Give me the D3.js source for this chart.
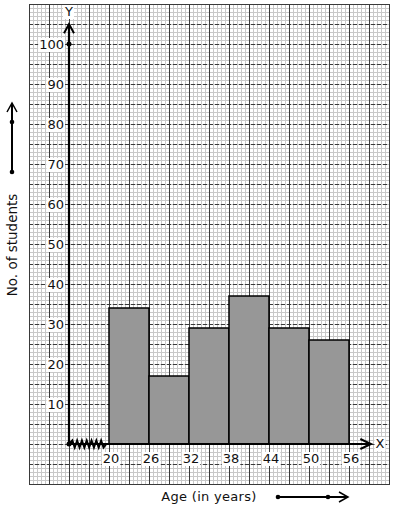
<!DOCTYPE html>
<html>
<head>
<meta charset="utf-8">
<script src="https://d3js.org/d3.v7.min.js"></script>
<style>
  body { margin: 0; background: white; }
  text { font-family: "DejaVu Sans", sans-serif; }
</style>
</head>
<body>
<script>
// chart data
let binEdges = [20, 26, 32, 38, 44, 50, 56];
let students = [34, 17, 29, 37, 29, 26];
let yTicks = [10, 20, 30, 40, 50, 60, 70, 80, 90, 100];
let xTitle = "Age (in years)";
let yTitle = "No. of students";

let width = 394, height = 510;

let svg = d3.select("body").append("svg")
    .attr("width", width)
    .attr("height", height)
    .style("background-color", "white");

// x: 6 years per 40px, origin drawn at 14 (broken axis)
let x = d3.scaleLinear().domain([14, 56]).range([69, 349]);
let y = d3.scaleLinear().domain([0, 100]).range([444, 44]);

// graph paper
let gx0 = x(8), gx1 = x(62), gy0 = y(110), gy1 = y(-10);
let grid = svg.append("g").attr("shape-rendering", "crispEdges");

let minorX = d3.range(0, 91).map(i => 8 + i * 0.6);
let minorY = d3.range(0, 121).map(i => -10 + i);
grid.selectAll(".mx").data(minorX).enter().append("line")
    .attr("x1", d => Math.round(x(d)) + 0.5).attr("x2", d => Math.round(x(d)) + 0.5)
    .attr("y1", gy0).attr("y2", gy1)
    .attr("stroke", "#c8c8c8").attr("stroke-width", 1);
grid.selectAll(".my").data(minorY).enter().append("line")
    .attr("y1", d => Math.round(y(d)) + 0.5).attr("y2", d => Math.round(y(d)) + 0.5)
    .attr("x1", gx0).attr("x2", gx1)
    .attr("stroke", "#c8c8c8").attr("stroke-width", 1);

let majorX = d3.range(0, 19).map(i => 8 + i * 3);
let majorY = d3.range(0, 25).map(i => -10 + i * 5);
grid.selectAll(".Mx").data(majorX).enter().append("line")
    .attr("x1", d => Math.round(x(d)) + 0.5).attr("x2", d => Math.round(x(d)) + 0.5)
    .attr("y1", gy0).attr("y2", gy1)
    .attr("stroke", "#3a3a3a").attr("stroke-width", 1);
grid.selectAll(".My").data(majorY).enter().append("line")
    .attr("y1", d => Math.round(y(d)) + 0.5).attr("y2", d => Math.round(y(d)) + 0.5)
    .attr("x1", gx0).attr("x2", gx1)
    .attr("stroke", "#3a3a3a").attr("stroke-width", 1)
    .attr("stroke-dasharray", "4,2");
grid.append("rect")
    .attr("x", gx0 + 0.5).attr("y", gy0 + 0.5)
    .attr("width", gx1 - gx0).attr("height", gy1 - gy0)
    .attr("fill", "none").attr("stroke", "#3a3a3a");

// bars
svg.selectAll(".bar").data(students).enter().append("rect")
    .attr("x", (d, i) => x(binEdges[i]))
    .attr("y", d => y(d))
    .attr("width", (d, i) => x(binEdges[i + 1]) - x(binEdges[i]))
    .attr("height", d => y(0) - y(d))
    .attr("fill", "#979797")
    .attr("stroke", "black")
    .attr("stroke-width", 1.5);

// axes
let ox = x(14), oy = y(0);
svg.append("line").attr("x1", ox).attr("x2", ox).attr("y1", oy).attr("y2", y(105))
    .attr("stroke", "black").attr("stroke-width", 2.2);
svg.append("path").attr("d", `M${ox - 5},${y(102.7)} L${ox},${y(105)} L${ox + 5},${y(102.7)}`)
    .attr("fill", "none").attr("stroke", "black").attr("stroke-width", 2);
svg.append("line").attr("x1", ox).attr("x2", x(59.2)).attr("y1", oy).attr("y2", oy)
    .attr("stroke", "black").attr("stroke-width", 2.2);
svg.append("path").attr("d", `M${x(57.7)},${oy - 5} L${x(59.3)},${oy} L${x(57.7)},${oy + 5}`)
    .attr("fill", "none").attr("stroke", "black").attr("stroke-width", 2);

// kink on x axis
let zz = [[ox, oy]];
let zx = d3.range(x(14.5), x(19.3), 2.4);
zx.forEach((px, i) => zz.push([px, oy + (i % 2 ? 3.5 : -3.5)]));
zz.push([x(19.6), oy]);
svg.append("path").attr("d", d3.line()(zz))
    .attr("fill", "none").attr("stroke", "black").attr("stroke-width", 2);

svg.append("circle").attr("cx", ox).attr("cy", oy).attr("r", 2.5).attr("fill", "black");
svg.append("circle").attr("cx", ox).attr("cy", y(100)).attr("r", 2.5).attr("fill", "black");

// labels with white backing
function label(tx, ty, str, anchor) {
    let t = svg.append("text").attr("x", tx).attr("y", ty)
        .attr("text-anchor", anchor).attr("font-size", 13).attr("fill", "#111")
        .text(str);
    let b = t.node().getBBox();
    svg.insert("rect", () => t.node())
        .attr("x", b.x - 1).attr("y", b.y + 1)
        .attr("width", b.width + 2).attr("height", b.height - 1)
        .attr("fill", "white");
}
yTicks.forEach(v => label(ox - 5, y(v) + 5, v, "end"));
binEdges.forEach(v => label(x(v) + 2, oy + 19, v, "middle"));
label(ox, 16, "Y", "middle");
label(x(59.3) + 9, oy + 4, "X", "middle");

// titles
svg.append("text").attr("x", 209).attr("y", 501)
    .attr("text-anchor", "middle").attr("font-size", 13).attr("letter-spacing", 0.3)
    .attr("fill", "#111").text(xTitle);
svg.append("text").attr("transform", "translate(17,245) rotate(-90)")
    .attr("text-anchor", "middle").attr("font-size", 13.5)
    .attr("fill", "#111").text(yTitle);

// direction arrows
svg.append("line").attr("x1", 278).attr("x2", 347).attr("y1", 497).attr("y2", 497)
    .attr("stroke", "black").attr("stroke-width", 2);
svg.append("path").attr("d", "M339,492 L348,497 L339,502")
    .attr("fill", "none").attr("stroke", "black").attr("stroke-width", 1.5);
svg.append("circle").attr("cx", 278).attr("cy", 497).attr("r", 2.3);
svg.append("circle").attr("cx", 328).attr("cy", 497).attr("r", 2.3);

svg.append("line").attr("x1", 12).attr("x2", 12).attr("y1", 172).attr("y2", 104)
    .attr("stroke", "black").attr("stroke-width", 2);
svg.append("path").attr("d", "M7,112 L12,103 L17,112")
    .attr("fill", "none").attr("stroke", "black").attr("stroke-width", 1.5);
svg.append("circle").attr("cx", 12).attr("cy", 172).attr("r", 2.3);
svg.append("circle").attr("cx", 12).attr("cy", 122).attr("r", 2.3);
</script>
</body>
</html>
